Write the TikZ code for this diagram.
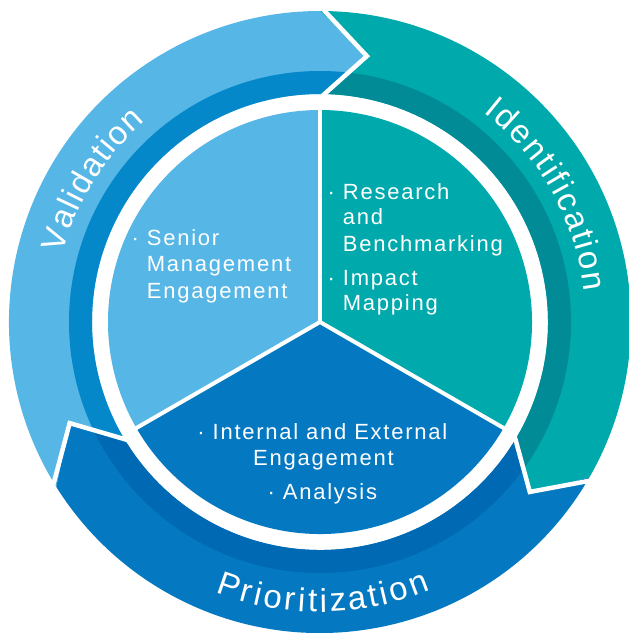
\documentclass[tikz,border=0pt]{standalone}
\usepackage{fontspec}
\setmainfont{Liberation Sans}
\newfontfamily\innerfont[LetterSpace=8]{Liberation Sans}
\usetikzlibrary{decorations.text}
\definecolor{vlight}{HTML}{56B6E6}
\definecolor{vdark}{HTML}{0588CA}
\definecolor{iteal}{HTML}{00A9AC}
\definecolor{idark}{HTML}{008B97}
\definecolor{pblue}{HTML}{0479C1}
\definecolor{pdark}{HTML}{0069B3}
\newcommand\ringfont{\fontsize{33}{36}\selectfont}
\newcommand\bul{\llap{\textperiodcentered\hspace{8pt}}}
\tikzset{
  seg/.style n args={4}{insert path={(#1:311) arc[start angle=#1,end angle=#3,radius=311] -- (#4:270) -- (#3:228) arc[start angle=#3,end angle=#1,radius=228] -- (#2:270) -- cycle}},
  gapline/.style={white, line width=4.5pt, line join=miter},
  divider/.style={white, line width=4pt},
  itext/.style={text=white, font=\innerfont\fontsize{22}{26}\selectfont, inner sep=0pt, anchor=base west},
  ctext/.style={itext, anchor=base},
  ringtext/.style={decorate, decoration={text along path, text={|\ringfont|#1}, text color=white, text align=fit to path}}
}
\begin{document}
\begin{tikzpicture}[x=1pt,y=1pt]
\useasboundingbox (-320,-311) rectangle (309,322);
\coordinate (c) at (0,0);
% outer ring segments
\fill[vlight, seg={212}{202}{90}{80}];
\begin{scope}\clip[seg={212}{202}{90}{80}]; \fill[vdark] (c) circle[radius=251]; \end{scope}
\fill[iteal, seg={90}{80}{-30}{-39}];
\begin{scope}\clip[seg={90}{80}{-30}{-39}]; \fill[idark] (c) circle[radius=251]; \end{scope}
\fill[pblue, seg={-30}{-39}{-148}{-158}];
\begin{scope}\clip[seg={-30}{-39}{-148}{-158}]; \fill[pdark] (c) circle[radius=251]; \end{scope}
% white gaps at chevrons
\draw[gapline] (90:316) -- (80:270) -- (90:224);
\draw[gapline] (-30:316) -- (-39:270) -- (-30:224);
\draw[gapline] (212:316) -- (202:270) -- (212:224);
% inner pie
\fill[vlight] (c) -- (90:212) arc[start angle=90,end angle=210,radius=212] -- cycle;
\fill[iteal] (c) -- (-30:212) arc[start angle=-30,end angle=90,radius=212] -- cycle;
\fill[pblue] (c) -- (210:212) arc[start angle=210,end angle=330,radius=212] -- cycle;
\draw[divider] (c) -- (90:215);
\draw[divider] (c) -- (210:215);
\draw[divider] (c) -- (330:215);
% ring labels
\path[ringtext=Validation] (165:266) arc[start angle=165,end angle=131,radius=266];
\path[ringtext=Identification] (52:266) arc[start angle=52,end angle=6.5,radius=266];
\path[ringtext=Prioritization] (-111.2:290) arc[start angle=-111.2,end angle=-67.6,radius=290];
% right sector
\node[itext] (r1) at (22.7,123) {\bul Research};
\node[itext] (r2) at (22.7,97.7) {and};
\node[itext] (r3) at (22.7,71) {Benchmarking};
\node[itext] (r4) at (22.7,37) {\bul Impact};
\node[itext] (r5) at (22.7,12) {Mapping};
% left sector
\node[itext] (l1) at (-173.3,77) {\bul Senior};
\node[itext] (l2) at (-173.3,51) {Management};
\node[itext] (l3) at (-173.3,23.7) {Engagement};
% bottom sector
\node[ctext] (b1) at (10,-117.1) {\bul Internal and External};
\node[ctext] (b2) at (3.5,-143.2) {Engagement};
\node[ctext] (b3) at (10,-177.4) {\bul Analysis};
\end{tikzpicture}
\end{document}
